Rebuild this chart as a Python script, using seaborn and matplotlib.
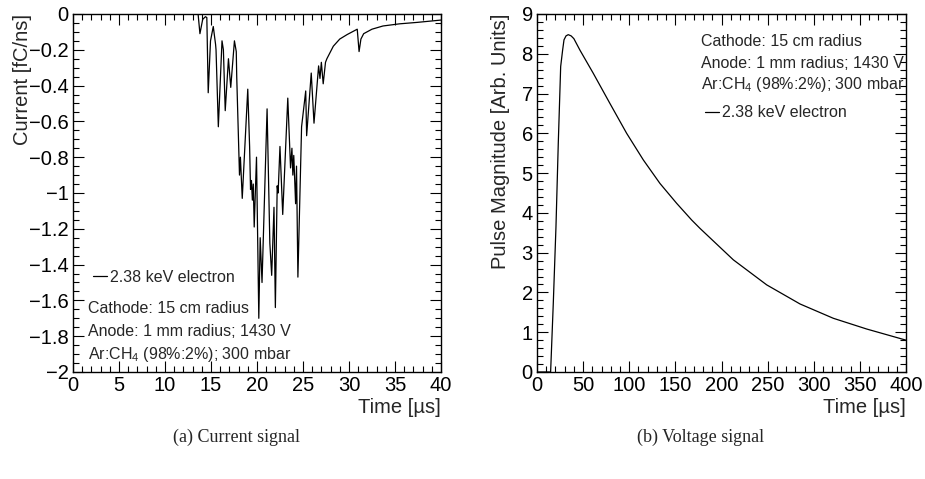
import matplotlib
matplotlib.use("Agg")
import matplotlib.pyplot as plt
from matplotlib.ticker import MultipleLocator, FuncFormatter
import seaborn as sns

# current signal (a)
cur_t = [0, 13.6, 13.8, 14.1, 14.4, 14.55, 14.7, 14.95, 15.25, 15.5, 15.55, 15.8,
         16.2, 16.35, 16.55, 16.9, 17.15, 17.55, 17.75, 17.8, 18.1, 18.2, 18.4,
         19.0, 19.2, 19.3, 19.4, 19.5, 19.6, 19.7, 19.95, 20.2, 20.35, 20.55,
         21.1, 21.4, 21.6, 21.85, 22.0, 22.2, 22.3, 22.5, 22.8, 23.35, 23.65,
         23.8, 23.9, 24.0, 24.2, 24.3, 24.45, 24.85, 25.3, 25.4, 25.9, 26.2,
         26.7, 26.85, 27.0, 27.2, 27.45, 27.6, 28.3, 29.0, 29.8, 30.9, 31.1,
         31.3, 31.6, 32.5, 33.7, 35.5, 37.4, 40]
cur_i = [0, 0, -0.11, -0.03, -0.015, -0.02, -0.44, -0.15, -0.07, -0.17, -0.20, -0.63,
         -0.15, -0.20, -0.54, -0.25, -0.41, -0.15, -0.21, -0.35, -0.90, -0.80, -1.03,
         -0.42, -0.74, -0.98, -0.93, -1.04, -0.95, -1.19, -0.80, -1.70, -1.25, -1.50,
         -0.53, -1.28, -1.46, -1.08, -1.64, -0.96, -1.00, -0.74, -1.12, -0.47, -0.86,
         -0.75, -0.90, -0.79, -1.06, -0.85, -1.47, -0.63, -0.43, -0.68, -0.33, -0.61,
         -0.29, -0.36, -0.27, -0.39, -0.27, -0.25, -0.18, -0.14, -0.115, -0.085, -0.21,
         -0.14, -0.11, -0.085, -0.067, -0.055, -0.047, -0.034]

# voltage signal (b)
volt_t = [0, 14.8, 17.7, 20.6, 23.1, 25.7, 27.8, 29.3, 31.5, 33.9, 37, 40, 46.6,
          61, 79.1, 97.2, 115.3, 133.3, 151.4, 167.7, 176.7, 212.8, 249, 285.1,
          321.2, 357.4, 400]
volt_v = [0, 0, 1.73, 3.65, 5.75, 7.68, 8.09, 8.35, 8.45, 8.48, 8.45, 8.38, 8.09,
          7.51, 6.75, 6.0, 5.33, 4.74, 4.24, 3.82, 3.61, 2.82, 2.19, 1.71,
          1.35, 1.08, 0.80]

label = "2.38 keV electron"
info = ["Cathode: 15 cm radius", "Anode: 1 mm radius; 1430 V",
        r"Ar:CH$_4$ (98%:2%); 300 mbar"]

sns.set_theme(style="ticks")
plt.rcParams['font.family'] = ['Liberation Sans', 'DejaVu Sans']
plt.rcParams['mathtext.fontset'] = 'custom'
plt.rcParams['mathtext.rm'] = 'Liberation Sans'
plt.rcParams['mathtext.default'] = 'regular'

fmt = FuncFormatter(lambda v, p: f"{v:g}".replace("-", "\u2212"))

fig = plt.figure(figsize=(9.25, 4.79), dpi=100)
ax1 = fig.add_axes([0.0789, 0.2234, 0.3978, 0.7474])
ax2 = fig.add_axes([0.5805, 0.2234, 0.3990, 0.7474])

sns.lineplot(x=cur_t, y=cur_i, ax=ax1, color="black", lw=0.9, sort=False,
             estimator=None, label=label)
sns.lineplot(x=volt_t, y=volt_v, ax=ax2, color="black", lw=0.9, sort=False,
             estimator=None, label=label)

ax1.set_xlim(0, 40)
ax1.set_ylim(-2, 0)
ax1.xaxis.set_major_locator(MultipleLocator(5))
ax1.xaxis.set_minor_locator(MultipleLocator(1))
ax1.yaxis.set_major_locator(MultipleLocator(0.2))
ax1.yaxis.set_minor_locator(MultipleLocator(0.05))

ax2.set_xlim(0, 400)
ax2.set_ylim(0, 9)
ax2.xaxis.set_major_locator(MultipleLocator(50))
ax2.xaxis.set_minor_locator(MultipleLocator(10))
ax2.yaxis.set_major_locator(MultipleLocator(1))
ax2.yaxis.set_minor_locator(MultipleLocator(0.2))

for ax in (ax1, ax2):
    for s in ax.spines.values():
        s.set_visible(True)
        s.set_color("black")
        s.set_linewidth(1.0)
    ax.xaxis.set_major_formatter(fmt)
    ax.yaxis.set_major_formatter(fmt)
    ax.tick_params(which="both", direction="in", top=True, right=True,
                   width=0.8, color="black", labelsize=14.5, labelcolor="black", pad=3)
    ax.tick_params(which="major", length=8)
    ax.tick_params(which="minor", length=4)
    ax.set_xlabel("Time [µs]", fontsize=14.5, loc="right")

ax1.set_ylabel("Current [fC/ns]", fontsize=14.5, loc="top")
ax2.set_ylabel("Pulse Magnitude [Arb. Units]", fontsize=14.5, loc="top")
ax1.xaxis.set_label_coords(1.0, -0.073)
ax2.xaxis.set_label_coords(1.0, -0.073)
ax1.yaxis.set_label_coords(-0.111, 1.0)
ax2.yaxis.set_label_coords(-0.073, 1.0)

ax1.legend(loc="center left", bbox_to_anchor=(0.054, 0.265), frameon=False,
           fontsize=11.5, handlelength=0.9, handletextpad=0.2, borderpad=0,
           borderaxespad=0)
ax2.legend(loc="center left", bbox_to_anchor=(0.455, 0.7235), frameon=False,
           fontsize=11.5, handlelength=0.9, handletextpad=0.2, borderpad=0,
           borderaxespad=0)

for txt, y in zip(info, [0.176, 0.112, 0.050]):
    ax1.text(0.041, y, txt, transform=ax1.transAxes, fontsize=11.5, va="center")
for txt, y in zip(info, [0.922, 0.863, 0.802]):
    ax2.text(0.4436, y, txt, transform=ax2.transAxes, fontsize=11.5, va="center")

fig.text(0.256, 0.0877, "(a) Current signal", family="Liberation Serif",
         fontsize=13, ha="center", va="center")
fig.text(0.757, 0.0877, "(b) Voltage signal", family="Liberation Serif",
         fontsize=13, ha="center", va="center")

fig.savefig("out.png", dpi=100)
